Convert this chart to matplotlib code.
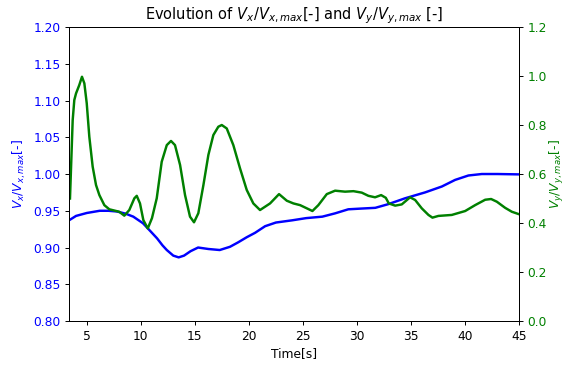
import matplotlib
matplotlib.use("Agg")
import matplotlib.pyplot as plt

# values
t_x = [3.35, 4.0, 5.0, 6.2, 7.0, 7.8, 8.6, 9.3, 10.2, 10.9, 11.5, 12.0, 12.4, 13.0,
       13.5, 14.0, 14.6, 15.3, 16.25, 17.3, 18.25, 19.0, 19.8, 20.57, 21.5, 22.5,
       24.0, 25.3, 26.8, 27.98, 29.2, 30.4, 31.7, 32.9, 34.46, 36.31, 37.86, 39.09,
       40.32, 41.56, 43.0, 45.0]
vx = [0.937, 0.943, 0.947, 0.950, 0.950, 0.949, 0.946, 0.942, 0.933, 0.922, 0.9125,
      0.903, 0.8966, 0.889, 0.8866, 0.889, 0.895, 0.900, 0.898, 0.8966, 0.901, 0.907,
      0.914, 0.920, 0.929, 0.934, 0.937, 0.940, 0.942, 0.9465, 0.952, 0.953, 0.954,
      0.959, 0.967, 0.975, 0.983, 0.992, 0.998, 1.0, 1.0, 0.9995]

t_y = [3.44, 3.69, 3.84, 4.0, 4.3, 4.55, 4.77, 4.99, 5.23, 5.54, 5.85, 6.16, 6.62,
       7.08, 8.0, 8.47, 8.93, 9.4, 9.62, 9.92, 10.23, 10.64, 11.03, 11.47, 11.93,
       12.4, 12.79, 13.16, 13.63, 14.09, 14.55, 14.92, 15.32, 15.79, 16.25, 16.71,
       17.17, 17.49, 17.95, 18.56, 19.18, 19.8, 20.41, 21.03, 21.96, 22.79, 23.51,
       24.12, 24.74, 25.36, 25.88, 26.43, 27.21, 27.98, 28.9, 29.68, 30.45, 31.06,
       31.68, 32.24, 32.67, 32.95, 33.54, 34.15, 34.92, 35.39, 36.0, 36.62, 36.99,
       37.54, 38.78, 40.02, 40.94, 41.87, 42.42, 42.95, 43.72, 44.34, 45.0]
vy = [0.50, 0.82, 0.902, 0.929, 0.963, 0.997, 0.970, 0.889, 0.752, 0.630, 0.555,
      0.514, 0.473, 0.456, 0.446, 0.430, 0.453, 0.501, 0.511, 0.480, 0.412, 0.378,
      0.420, 0.501, 0.650, 0.718, 0.735, 0.718, 0.637, 0.514, 0.426, 0.403, 0.440,
      0.555, 0.678, 0.759, 0.793, 0.800, 0.786, 0.718, 0.623, 0.535, 0.480, 0.453,
      0.480, 0.518, 0.491, 0.480, 0.473, 0.460, 0.449, 0.473, 0.518, 0.532, 0.528,
      0.530, 0.524, 0.511, 0.505, 0.514, 0.503, 0.480, 0.471, 0.476, 0.505, 0.494,
      0.460, 0.433, 0.422, 0.429, 0.433, 0.449, 0.473, 0.495, 0.498, 0.487, 0.462,
      0.446, 0.436]

dpi = 88
fig, ax1 = plt.subplots(figsize=(568/dpi, 369/dpi), dpi=dpi)
plt.subplots_adjust(left=0.1215, right=0.9137, bottom=0.130, top=0.9268)

ax1.plot(t_x, vx, color='blue', lw=2)
ax1.set_xlim(3.35, 45)
ax1.set_ylim(0.80, 1.20)
ax1.set_yticks([0.80, 0.85, 0.90, 0.95, 1.00, 1.05, 1.10, 1.15, 1.20])
ax1.set_xlabel('Time[s]')
ax1.set_ylabel('$V_x/V_{x,max}$[-]', color='blue')
ax1.tick_params(axis='y', labelcolor='blue')

ax2 = ax1.twinx()
ax2.plot(t_y, vy, color='green', lw=2)
ax2.set_ylim(0, 1.2)
ax2.set_ylabel('$V_y/V_{y,max}$[-]', color='green', labelpad=1)
ax2.tick_params(axis='y', labelcolor='green')

plt.title('Evolution of $V_x/V_{x,max}$[-] and $V_y/V_{y,max}$ [-]')
plt.savefig('out.png', dpi=dpi)
